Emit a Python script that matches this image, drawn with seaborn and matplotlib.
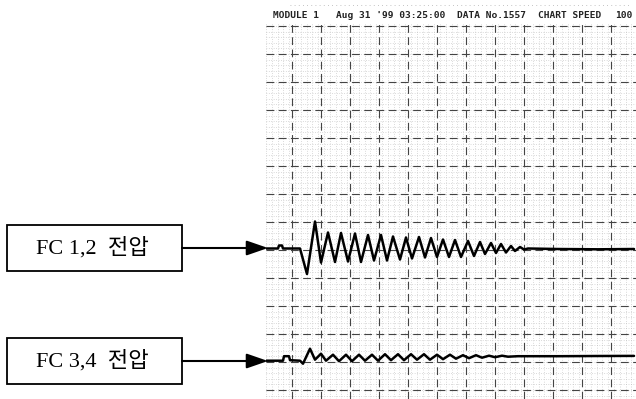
import numpy as np
import matplotlib
matplotlib.use('Agg')
import matplotlib.pyplot as plt
import seaborn as sns
from matplotlib.patches import Rectangle

sns.set_style('white')
plt.rcParams['font.family'] = ['Liberation Serif', 'Noto Sans CJK KR', 'DejaVu Sans']

# trace FC 1,2 : time (chart px from left edge) and deflection (px, up = +)
t12 = [0, 12, 13, 16, 17, 34, 41, 49, 55, 62, 69, 75, 82, 89, 95, 102, 108, 115, 121,
       127, 134, 140, 146, 153, 159, 165, 171, 177, 183, 189, 195, 202, 208, 214, 219,
       225, 230, 235, 240, 245, 249, 254, 258, 262, 292, 332, 368]
v12 = [0, 0, 3, 3, 0, 0, -25.5, 27, -14, 16, -13.5, 15.5, -13, 15, -13.5, 13.5, -12,
       13.5, -12, 12, -11, 11, -10, 11.5, -9, 10.5, -8.5, 9, -8.5, 8.5, -8.5, 7.5, -7.5,
       6.5, -5.5, 5.5, -4.5, 4.5, -4, 2.5, -2.5, 1.5, -1, 0, -0.5, -0.8, -0.5]

# trace FC 3,4
t34 = [0, 17, 18, 23, 24, 34, 37, 44, 49, 55, 60, 67, 73, 80, 86, 93, 99, 106, 112,
       119, 125, 132, 138, 145, 151, 158, 164, 171, 177, 184, 190, 197, 203, 210, 216,
       223, 229, 236, 242, 252, 292, 332, 368]
v34 = [0, 0, 4.5, 4.5, 0.5, 0, -3, 12, 1, 7, 0, 6, -0.5, 6, -0.5, 6, 0, 6, 0, 6.5,
       0.5, 6.5, 0.5, 6.5, 1, 6.5, 1, 6, 1.5, 6, 2, 5.5, 2.5, 5.5, 3, 5, 3.5, 5, 4,
       4.5, 4.5, 4.7, 4.8]

labels = ['FC 1,2  전압', 'FC 3,4  전압']
header = ['MODULE 1', "Aug 31 '99 03:25:00", 'DATA No.1557', 'CHART SPEED', '100']
header_x = [273, 336, 457, 538, 615]

W, H = 636, 399
fig = plt.figure(figsize=(W / 100, H / 100), dpi=100)

# overlay in pixel coordinates for boxes, arrows and header
ov = fig.add_axes([0, 0, 1, 1])
ov.set_xlim(0, W)
ov.set_ylim(H, 0)
ov.axis('off')

# chart paper region
x0, ytop = 266, 23
ax = fig.add_axes([x0 / W, 0, (W - x0) / W, (H - ytop) / H])
ax.set_xlim(0, W - x0)
ax.set_ylim(0, H - ytop)
ax.axis('off')

# paper grid: fine dotted + medium dashed lines
for gx in np.arange(0, W - x0, 29 / 5):
    ax.axvline(gx, color='#b8b8b8', lw=0.5, ls=(0, (1, 2.5)), zorder=1)
for gy in np.arange((H - ytop) - 3, 0, -28 / 5):
    ax.axhline(gy, color='#b8b8b8', lw=0.5, ls=(0, (1, 2.5)), zorder=1)
for gx in np.arange(-3, W - x0, 29):
    ax.axvline(gx, color='#444444', lw=0.8, ls=(0, (7, 4)), zorder=2)
for gy in np.arange((H - ytop) - 3, 0, -28):
    ax.axhline(gy, color='#444444', lw=0.8, ls=(0, (7, 4)), zorder=2)

base12 = H - 248.5
base34 = H - 360.7
for tt, vv, base in [(t12, v12, base12), (t34, v34, base34)]:
    sns.lineplot(x=tt, y=np.array(vv) + base, ax=ax, color='black', lw=1.8,
                 estimator=None, sort=False, zorder=5,
                 solid_joinstyle='round', solid_capstyle='round')

# header
for s, hx in zip(header, header_x):
    ov.text(hx, 15, s, family='DejaVu Sans Mono', fontweight='bold', fontsize=6.8,
            ha='left', va='center', color='#222222')
ov.plot([290, 630], [5, 5], color='#b0b0b0', lw=0.6, ls=(0, (1, 4)))

# label boxes and arrows
for lab, yc in zip(labels, [248, 361]):
    ov.add_patch(Rectangle((7, yc - 23), 175, 46, fill=False, ec='black', lw=1.3))
    ov.text(92, yc, lab, fontsize=16, ha='center', va='center', color='black')
    ov.annotate('', xy=(268, yc), xytext=(182, yc),
                arrowprops=dict(arrowstyle='-|>,head_length=1.3,head_width=0.45',
                                color='black', lw=1.5, shrinkA=0, shrinkB=0))

fig.savefig('out.png', dpi=100)
